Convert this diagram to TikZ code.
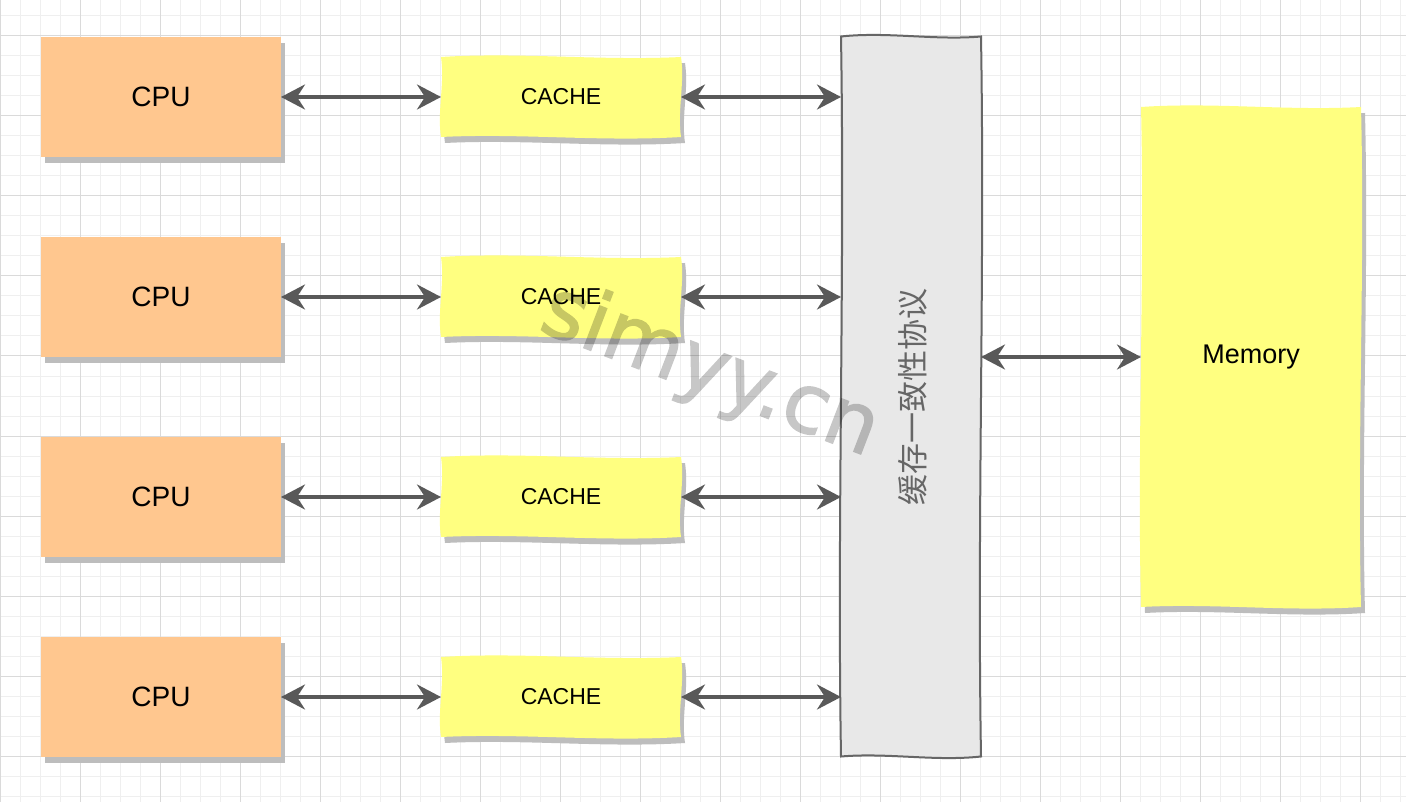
\documentclass[tikz,border=0pt]{standalone}
\usepackage{fontspec}
\setmainfont{Liberation Sans}
\newfontfamily\cjkfont{Noto Sans CJK SC}
\newfontfamily\wmfont[FakeBold=1.6]{DejaVu Sans}
\usetikzlibrary{arrows.meta,calc}
\definecolor{cpuorange}{HTML}{FFC78F}
\definecolor{noteyellow}{HTML}{FFFF80}
\definecolor{protofill}{HTML}{E8E8E8}
\definecolor{protoline}{HTML}{666666}
\definecolor{arrowgray}{HTML}{595959}
\definecolor{shadowgray}{HTML}{BDBDBD}
\definecolor{gridminor}{HTML}{EFEFEF}
\definecolor{gridmajor}{HTML}{DADADA}
\pgfdeclarelayer{gridlayer}
\pgfdeclarelayer{boxlayer}
\pgfsetlayers{gridlayer,boxlayer,main}
% gentle hand-drawn rectangle around node #1, shifted by #2, drawn with options #3
\newcommand\wavyshape[3]{%
  \coordinate (wa) at ([shift={#2}]#1.north west);
  \coordinate (wb) at ([shift={#2}]#1.north east);
  \coordinate (wc) at ([shift={#2}]#1.south east);
  \coordinate (wd) at ([shift={#2}]#1.south west);
  \path[#3] (wa)
    .. controls ($(wa)!0.33!(wb)+(0,-5)$) and ($(wa)!0.67!(wb)+(0,4)$) .. (wb)
    .. controls ($(wb)!0.33!(wc)+(4,0)$) and ($(wb)!0.67!(wc)+(-4,0)$) .. (wc)
    .. controls ($(wc)!0.33!(wd)+(0,5)$) and ($(wc)!0.67!(wd)+(0,-4)$) .. (wd)
    .. controls ($(wd)!0.33!(wa)+(-4,0)$) and ($(wd)!0.67!(wa)+(4,0)$) .. (wa) -- cycle;}
\newcommand\plainbox[2]{%
  \begin{pgfonlayer}{boxlayer}
    \fill[shadowgray] ([shift={(4,6)}]#1.north west) rectangle ([shift={(4,6)}]#1.south east);
    \fill[#2] (#1.north west) rectangle (#1.south east);
  \end{pgfonlayer}}
\newcommand\notebox[2]{%
  \begin{pgfonlayer}{boxlayer}
    \wavyshape{#1}{(4,6)}{fill=shadowgray}
    \wavyshape{#1}{(0,0)}{fill=#2}
  \end{pgfonlayer}}
\begin{document}
\begin{tikzpicture}[x=1pt,y=-1pt,
  boxlabel/.style={inner sep=0pt,outer sep=0pt,draw=none},
  cpubox/.style={boxlabel,minimum width=240pt,minimum height=120pt,font=\fontsize{28pt}{32pt}\selectfont},
  cachebox/.style={boxlabel,minimum width=240pt,minimum height=80pt,font=\fontsize{23pt}{28pt}\selectfont},
  conn/.style={draw=arrowgray,line width=3.5pt,
    {Stealth[length=24pt,width=25pt,inset=8pt]}-{Stealth[length=24pt,width=25pt,inset=8pt]}},
  minorline/.style={draw=gridminor,line width=1pt},
  majorline/.style={draw=gridmajor,line width=1pt}]
\useasboundingbox (0,0) rectangle (1406,802);
% grid
\begin{pgfonlayer}{gridlayer}
  \fill[white] (0,0) rectangle (1406,802);
  \foreach \x in {0,20,...,1400} \draw[minorline] (\x,0) -- (\x,802);
  \foreach \y in {16,36,...,796} \draw[minorline] (0,\y) -- (1406,\y);
  \foreach \x in {0,80,...,1400} \draw[majorline] (\x,0) -- (\x,802);
  \foreach \y in {36,116,...,796} \draw[majorline] (0,\y) -- (1406,\y);
\end{pgfonlayer}
% nodes
\foreach \i/\y in {1/97,2/297,3/497,4/697}{
  \node[cpubox] (cpu\i) at (161,\y) {CPU};
  \node[cachebox] (cache\i) at (561,\y) {CACHE};
  \plainbox{cpu\i}{cpuorange}
  \notebox{cache\i}{noteyellow}
}
\node[boxlabel,minimum width=140pt,minimum height=720pt] (proto) at (911,396.5) {};
\begin{pgfonlayer}{boxlayer}
  \wavyshape{proto}{(0,0)}{fill=protofill,draw=protoline,line width=2pt}
\end{pgfonlayer}
\node[boxlabel,rotate=90,text=protoline,font=\cjkfont\fontsize{31pt}{34pt}\selectfont] (protolabel) at (913,396.5) {缓存一致性协议};
\node[boxlabel,minimum width=220pt,minimum height=500pt,font=\fontsize{27pt}{32pt}\selectfont] (mem) at (1251,357) {Memory};
\notebox{mem}{noteyellow}
% connectors
\foreach \i in {1,2,3,4}{
  \draw[conn] (cpu\i.east) -- (cpu\i.east -| cache\i.west);
  \draw[conn] (cache\i.east) -- (cache\i.east -| proto.west);
}
\draw[conn] (mem.west -| proto.east) -- (mem.west);
% watermark
\begin{scope}[transparency group,opacity=0.22]
\node[boxlabel,rotate=-21,text=black,font=\wmfont\fontsize{82pt}{90pt}\selectfont] (wm) at (710,372) {simyy.cn};
\end{scope}
\end{tikzpicture}
\end{document}
